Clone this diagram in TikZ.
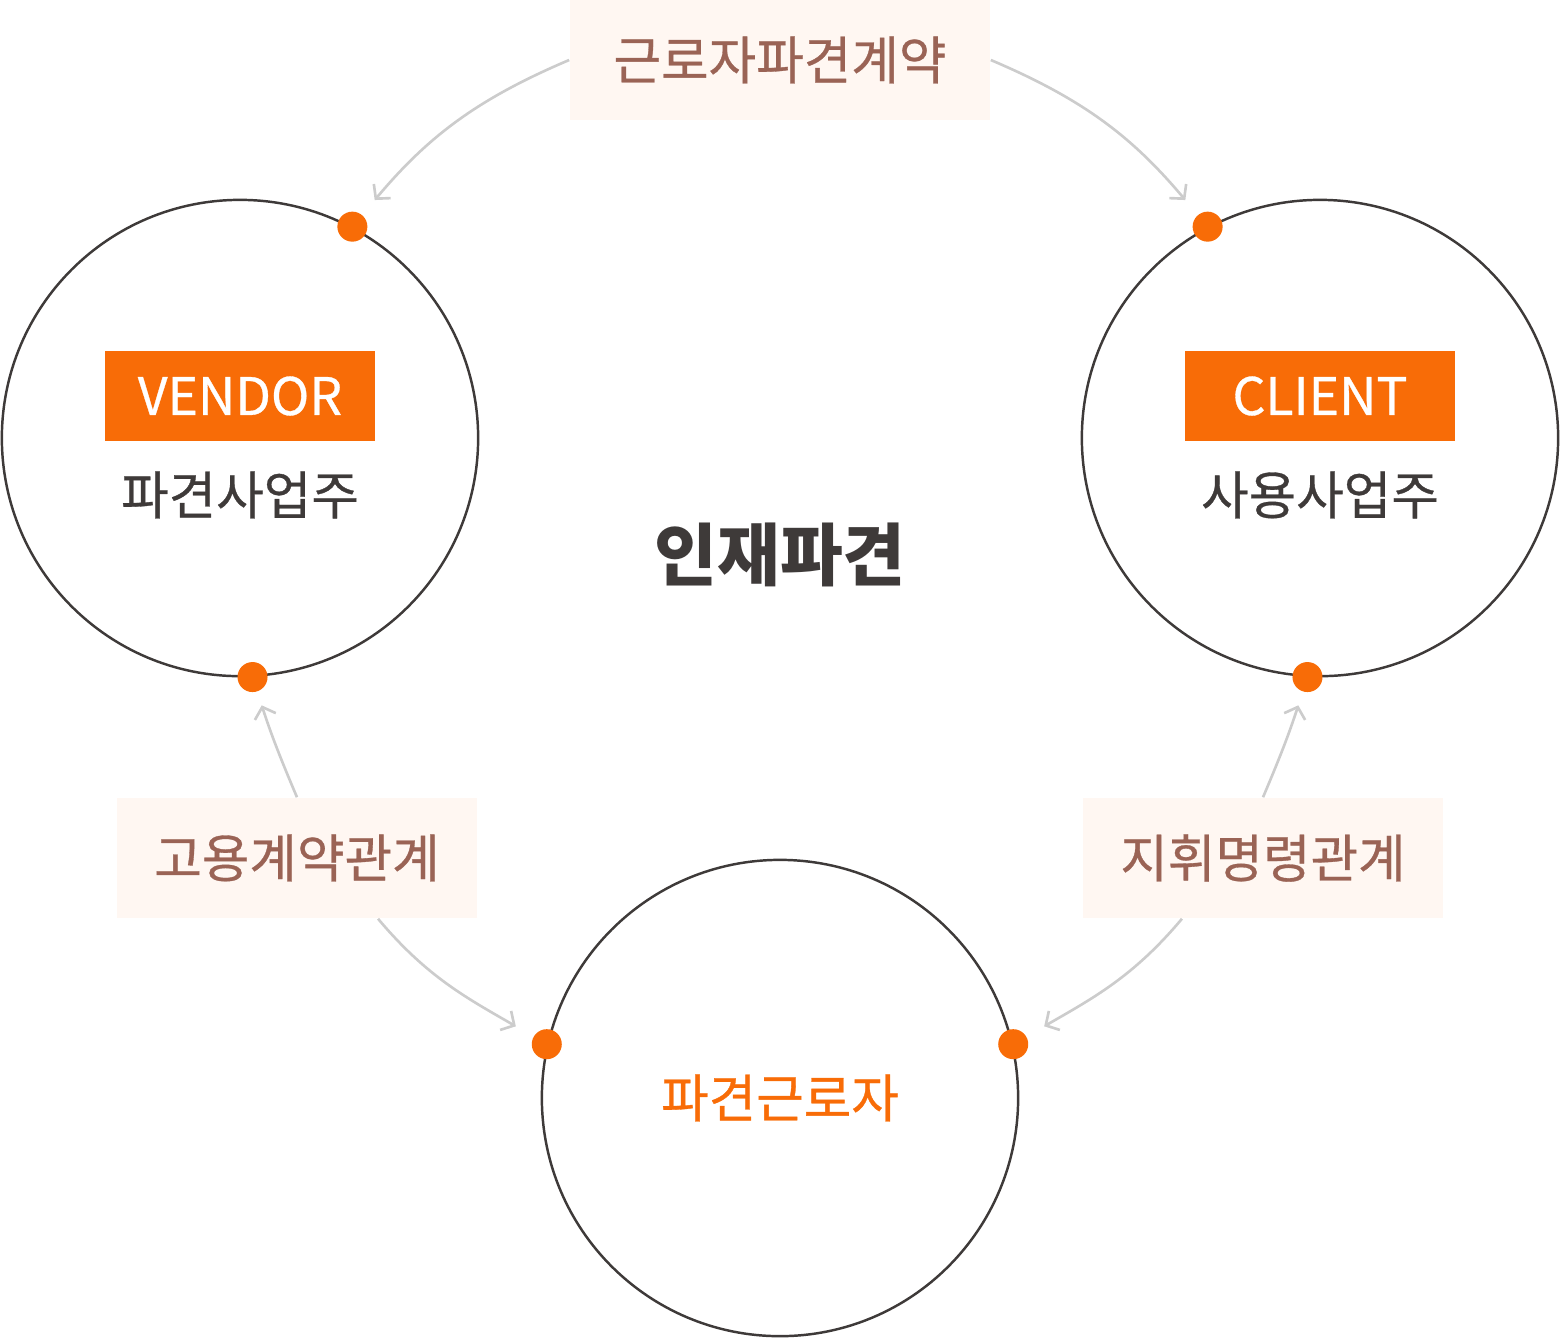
\documentclass[tikz,border=0pt]{standalone}
\usepackage{fontspec}
\setmainfont{Noto Sans CJK KR}
\newfontfamily\krmed{Noto Sans CJK KR}[FakeBold=0.6]
\usetikzlibrary{arrows.meta}

\definecolor{orng}{HTML}{F86C07}
\definecolor{tagfill}{HTML}{FFF7F2}
\definecolor{tagtext}{HTML}{9A6355}
\definecolor{ink}{HTML}{3E3A39}
\definecolor{linegray}{HTML}{CCCCCC}

\begin{document}
\begin{tikzpicture}[x=0.01cm,y=0.01cm,
  party/.style={circle,draw=ink,line width=0.7pt,minimum size=4.76cm,inner sep=0pt},
  dot/.style={circle,fill=orng,minimum size=0.3cm,inner sep=0pt},
  tagbox/.style={fill=orng,text=white,minimum width=2.7cm,minimum height=0.9cm,inner sep=0pt,
    font=\krmed\fontsize{14.7}{16}\selectfont},
  relbox/.style={fill=tagfill,text=tagtext,minimum height=1.2cm,inner sep=0pt,
    font=\krmed\fontsize{14.7}{16}\selectfont},
  partyname/.style={text=ink,font=\krmed\fontsize{14.7}{16}\selectfont},
  rel/.style={draw=linegray,line width=0.75pt,-{Straight Barb[length=1mm,width=2.2mm]}}
]
\useasboundingbox (0,0) rectangle (1560,-1338);

% Parties
\node[party] (vendor) at (240,-438) {};
\node[party] (client) at (1320,-438) {};
\node[party,text=orng,font=\krmed\fontsize{14.7}{16}\selectfont] (worker) at (780,-1098) {파견근로자};

% Tags inside the circles
\node[tagbox] (vtag) at (240,-396) {VENDOR};
\node[partyname] (vname) at (240,-495) {파견사업주};
\node[tagbox] (ctag) at (1320,-396) {CLIENT};
\node[partyname] (cname) at (1320,-495) {사용사업주};

% Title in the middle
\node[text=ink,font=\fontsize{19.4}{21}\selectfont\bfseries] (title) at (780,-555) {인재파견};

% Contact dots on the circles
\node[dot] (vtop) at (vendor.62) {};
\node[dot] (vbot) at (vendor.-87) {};
\node[dot] (ctop) at (client.118) {};
\node[dot] (cbot) at (client.-93) {};
\node[dot] (wleft) at (worker.167) {};
\node[dot] (wright) at (worker.13) {};

% Relations
\node[relbox,minimum width=4.2cm] (dispatch) at (780,-60) {근로자파견계약};
\node[relbox,minimum width=3.6cm] (employ) at (297,-858) {고용계약관계};
\node[relbox,minimum width=3.6cm] (command) at (1263,-858) {지휘명령관계};

% Curved arrows
\draw[rel,shorten >=0.19cm] (dispatch.west) to[out=203,in=50] (vtop.50);
\draw[rel,shorten >=0.19cm] (dispatch.east) to[out=-23,in=130] (ctop.130);
\draw[rel,shorten >=0.14cm] (employ.north) to[out=113,in=-72] (vbot.-72);
\draw[rel,shorten >=0.14cm] (command.north) to[out=67,in=-108] (cbot.-108);
\draw[rel,shorten >=0.2cm] ([xshift=0.81cm]employ.south) to[out=-50,in=150] (wleft.150);
\draw[rel,shorten >=0.2cm] ([xshift=-0.81cm]command.south) to[out=-130,in=30] (wright.30);

\end{tikzpicture}
\end{document}
